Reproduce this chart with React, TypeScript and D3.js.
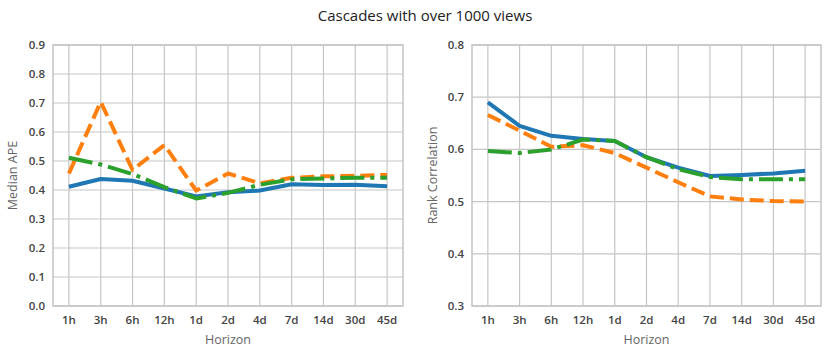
import React, { useEffect, useRef } from 'react';
import * as d3 from 'd3';

const horizons = ['1h', '3h', '6h', '12h', '1d', '2d', '4d', '7d', '14d', '30d', '45d'];

// Median APE panel
const apeBlue = [0.411, 0.438, 0.432, 0.405, 0.378, 0.392, 0.398, 0.42, 0.417, 0.418, 0.413];
const apeOrange = [0.457, 0.704, 0.469, 0.555, 0.398, 0.457, 0.423, 0.442, 0.447, 0.449, 0.452];
const apeGreen = [0.511, 0.488, 0.455, 0.41, 0.371, 0.39, 0.418, 0.437, 0.44, 0.442, 0.442];
const apeTicks = [0, 0.1, 0.2, 0.3, 0.4, 0.5, 0.6, 0.7, 0.8, 0.9];

// Rank correlation panel
const rankBlue = [0.69, 0.645, 0.626, 0.62, 0.616, 0.585, 0.565, 0.549, 0.551, 0.554, 0.559];
const rankOrange = [0.666, 0.636, 0.605, 0.608, 0.593, 0.565, 0.537, 0.51, 0.504, 0.501, 0.5];
const rankGreen = [0.597, 0.593, 0.6, 0.619, 0.616, 0.585, 0.562, 0.547, 0.543, 0.543, 0.543];
const rankTicks = [0.3, 0.4, 0.5, 0.6, 0.7, 0.8];

const styles = [
  { color: '#1f77b4', dash: null },
  { color: '#ff7f0e', dash: '14,6' },
  { color: '#2ca02c', dash: '24,6,4,6' }
];

const FONT = '"Open Sans", sans-serif';

export default function App() {
  const ref = useRef<SVGSVGElement>(null);

  useEffect(() => {
    const svg = d3.select(ref.current);
    svg.selectAll('*').remove();

    svg.append('text')
      .attr('x', 425)
      .attr('y', 21)
      .attr('text-anchor', 'middle')
      .style('font-family', FONT)
      .style('font-size', '15px')
      .attr('fill', '#222')
      .text('Cascades with over 1000 views');

    const panels = [
      { left: 53, right: 403, domain: [0, 0.9], ticks: apeTicks, label: 'Median APE', labelX: 17, series: [apeBlue, apeOrange, apeGreen] },
      { left: 472, right: 821, domain: [0.3, 0.8], ticks: rankTicks, label: 'Rank Correlation', labelX: 437, series: [rankBlue, rankOrange, rankGreen] }
    ];
    const top = 45, bottom = 306;

    panels.forEach(p => {
      const g = svg.append('g');
      const x = d3.scalePoint().domain(horizons).range([p.left, p.right]).padding(0.5);
      const y = d3.scaleLinear().domain(p.domain).range([bottom, top]);

      // grid
      g.selectAll('.hg').data(p.ticks).enter().append('line')
        .attr('x1', p.left).attr('x2', p.right)
        .attr('y1', d => y(d)).attr('y2', d => y(d))
        .attr('stroke', '#c6c6c6').attr('stroke-width', 1.2);
      g.selectAll('.vg').data(horizons).enter().append('line')
        .attr('x1', d => x(d)!).attr('x2', d => x(d)!)
        .attr('y1', top).attr('y2', bottom)
        .attr('stroke', '#c6c6c6').attr('stroke-width', 1.2);
      g.append('rect')
        .attr('x', p.left).attr('y', top)
        .attr('width', p.right - p.left).attr('height', bottom - top)
        .attr('fill', 'none').attr('stroke', '#c4c4c4').attr('stroke-width', 1.5);

      // tick labels
      g.selectAll('.yl').data(p.ticks).enter().append('text')
        .attr('x', p.left - 8).attr('y', d => y(d))
        .attr('dy', '0.35em').attr('text-anchor', 'end')
        .style('font-family', FONT).style('font-size', '11.5px').style('font-weight', 600)
        .attr('fill', '#444')
        .text(d => d.toFixed(1));
      g.selectAll('.xl').data(horizons).enter().append('text')
        .attr('x', d => x(d)!).attr('y', 324)
        .attr('text-anchor', 'middle')
        .style('font-family', FONT).style('font-size', '11.5px').style('font-weight', 600)
        .attr('fill', '#444')
        .text(d => d);

      g.append('text')
        .attr('x', (p.left + p.right) / 2).attr('y', 344)
        .attr('text-anchor', 'middle')
        .style('font-family', FONT).style('font-size', '12.5px')
        .attr('fill', '#666')
        .text('Horizon');
      g.append('text')
        .attr('transform', `translate(${p.labelX},${(top + bottom) / 2}) rotate(-90)`)
        .attr('text-anchor', 'middle')
        .style('font-family', FONT).style('font-size', '12.5px')
        .attr('fill', '#666')
        .text(p.label);

      const line = d3.line<number>()
        .x((d, i) => x(horizons[i])!)
        .y(d => y(d));

      p.series.forEach((s, i) => {
        g.append('path')
          .datum(s)
          .attr('d', line)
          .attr('fill', 'none')
          .attr('stroke', styles[i].color)
          .attr('stroke-width', 4)
          .attr('stroke-dasharray', styles[i].dash)
          .attr('stroke-linejoin', 'round');
      });
    });
  }, []);

  return <svg ref={ref} width={831} height={356} style={{ display: 'block', position: 'absolute', left: 0, top: 0, background: '#fff' }} />;
}
